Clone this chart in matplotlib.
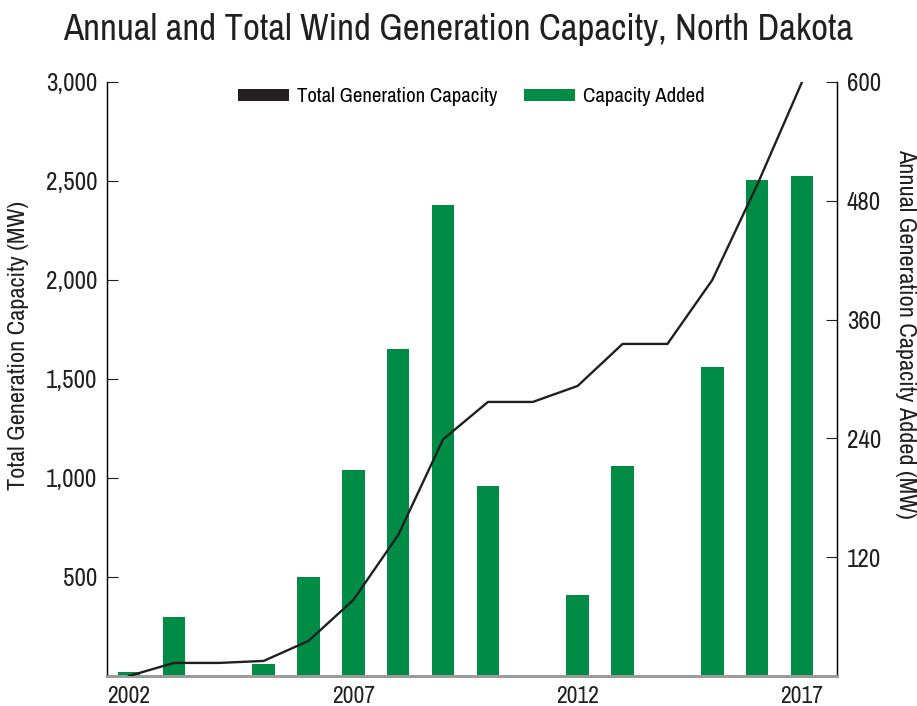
import numpy as np
import matplotlib
matplotlib.use('Agg')
import matplotlib.pyplot as plt
from matplotlib import font_manager
from matplotlib.patches import Patch

# look for a narrow/condensed sans, otherwise fall back to Liberation Sans
narrow = [f for f in font_manager.fontManager.ttflist
          if f.stretch in ('condensed', 'semi-condensed', 'extra-condensed')
          or 'Narrow' in f.name or 'Condensed' in f.name]
narrow_names = sorted(set(f.name for f in narrow))
if narrow_names:
    base_font = narrow_names[0]
    plt.rcParams['font.stretch'] = 'condensed'
    k = 1.0
else:
    base_font = 'Liberation Sans'
    k = 0.85
plt.rcParams['font.family'] = [base_font, 'DejaVu Sans']

# data
years = [2002, 2003, 2004, 2005, 2006, 2007, 2008, 2009, 2010,
         2011, 2012, 2013, 2014, 2015, 2016, 2017]
added_mw = [4, 60, 0, 12, 100, 208, 330, 476, 192,
            0, 82, 212, 0, 312, 501, 505]
total_mw = [0, 66, 66, 76, 177, 384, 712, 1195, 1384,
            1384, 1465, 1677, 1677, 2000, 2480, 3000]
xtick_years = [2002, 2007, 2012, 2017]

green = '#008c45'
dark = '#231f20'

fig = plt.figure(figsize=(9.17, 7.06), dpi=100)
ax = fig.add_axes([0.1167, 0.0425, 0.7961, 0.8414])
ax2 = ax.twinx()

ax2.bar(years, added_mw, width=0.5, color=green, zorder=2)
ax.plot(years, total_mw, color=dark, lw=1.7, zorder=3)
ax.set_zorder(ax2.get_zorder() + 1)
ax.patch.set_visible(False)

ax.set_xlim(2001.51, 2017.78)
ax.set_ylim(0, 3000)
ax2.set_ylim(0, 600)

ax.set_yticks([500, 1000, 1500, 2000, 2500, 3000])
ax.set_yticklabels(['500', '1,000', '1,500', '2,000', '2,500', '3,000'])
ax2.set_yticks([120, 240, 360, 480, 600])
ax.set_xticks(xtick_years)
ax.tick_params(axis='x', length=0, labelsize=17 * k, pad=7, colors=dark)
ax.tick_params(axis='y', direction='in', length=8, width=0.8, labelsize=18 * k,
               colors=dark, pad=7)
ax2.tick_params(axis='y', direction='in', length=8, width=0.8, labelsize=18 * k,
                colors=dark, pad=7)

for a in (ax, ax2):
    a.spines['top'].set_visible(False)
    a.spines['left'].set_linewidth(0.9)
    a.spines['right'].set_linewidth(0.9)
    a.spines['bottom'].set_color('#9a9a9a')
    a.spines['bottom'].set_linewidth(2)

fig.text(0.5, 0.958, 'Annual and Total Wind Generation Capacity, North Dakota',
         ha='center', va='center', fontsize=26.5 * k,
         fontweight='semibold', color=dark)
fig.text(0.02, 0.511, 'Total Generation Capacity (MW)', rotation=90,
         ha='center', va='center', fontsize=17.5 * k, color=dark)
fig.text(0.987, 0.527, 'Annual Generation Capacity Added (MW)', rotation=-90,
         ha='center', va='center', fontsize=17.5 * k, color=dark)

handles = [Patch(facecolor=dark), Patch(facecolor=green)]
ax.legend(handles, ['Total Generation Capacity', 'Capacity Added'],
          loc='center', bbox_to_anchor=(0.499, 0.975), ncol=2, frameon=False,
          fontsize=15 * k, handlelength=2.45, handleheight=0.48, columnspacing=1.3,
          handletextpad=0.38, borderpad=0, borderaxespad=0)

fig.savefig('out.png', dpi=100)
